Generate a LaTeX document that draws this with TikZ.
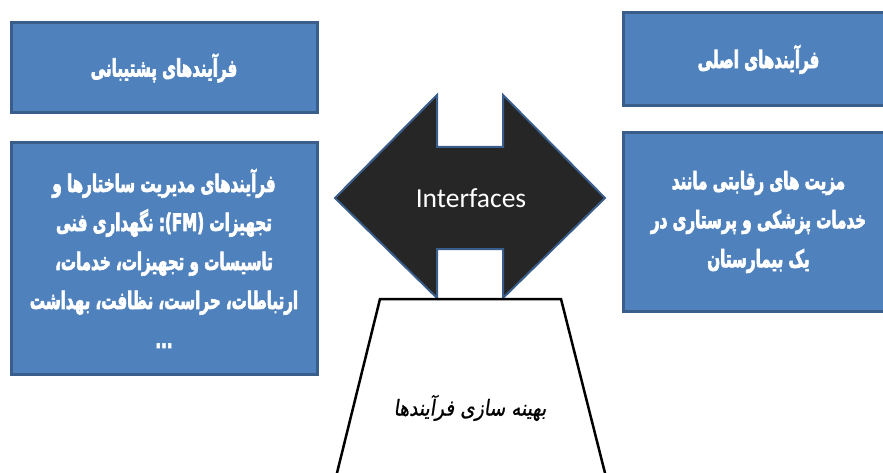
\documentclass[tikz,border=0pt]{standalone}
\usepackage{fontspec}
\usetikzlibrary{positioning}
\newfontfamily\arabicfont[Script=Arabic,FakeStretch=0.63,FakeBold=2.6]{DejaVu Sans Bold}
\newfontfamily\handfont[Script=Arabic,FakeSlant=0.15,FakeStretch=0.85,FakeBold=0.8]{DejaVu Sans}
\newfontfamily\calibrifont{Carlito}
\TeXXeTstate=1
\definecolor{boxblue}{RGB}{79,129,189}
\definecolor{edgeblue}{RGB}{58,94,140}
\definecolor{arrowfill}{RGB}{38,38,38}

\begin{document}
\begin{tikzpicture}[x=1pt, y=-1pt,
  procbox/.style={draw=edgeblue, line width=3pt, fill=boxblue, text=white, align=center,
    inner sep=0pt, font=\arabicfont\fontsize{24}{39}\selectfont}]
  \useasboundingbox (0,0) rectangle (883,473);
  \clip (0,0) rectangle (883,473);
  % support side
  \node[procbox, minimum width=306pt, minimum height=90pt] (support) at (164,68) {\beginR فرآیندهای پشتیبانی\endR};
  \node[procbox, minimum width=306pt, minimum height=231pt] (supportlist) at (164,258.5) {%
    \beginR فرآیندهای مدیریت ساختارها و\endR\\
    \beginR تجهیزات (\beginL FM\endL): نگهداری فنی\endR\\
    \beginR تاسیسات و تجهیزات، خدمات،\endR\\
    \beginR ارتباطات، حراست، نظافت، بهداشت\endR\\
    \beginR ...\endR};
  % main side
  \node[procbox, minimum width=271pt, minimum height=93pt] (main) at (758.5,59.5) {\beginR فرآیندهای اصلی\endR};
  \node[procbox, minimum width=271pt, minimum height=178pt] (advantage) at (758.5,222) {%
    \beginR مزیت های رقابتی مانند\endR\\
    \beginR خدمات پزشکی و پرستاری در\endR\\
    \beginR یک بیمارستان\endR};
  % interfaces
  \draw[draw=edgeblue, line width=2pt, fill=arrowfill] (335,198) -- (437,95) -- (437,147) -- (503,147)
    -- (503,95) -- (605,198) -- (503,298) -- (503,249) -- (437,249) -- (437,298) -- cycle;
  \node[text=white, font=\calibrifont\fontsize{27.5}{30}\selectfont] (interfaces) at (471,198) {Interfaces};
  % optimisation
  \draw[line width=2.5pt] (335,481) -- (380,299) -- (561,299) -- (607,481);
  \node[font=\handfont\fontsize{22}{26}\selectfont] (optimise) at (470,408) {\beginR بهینه سازی فرآیندها\endR};
\end{tikzpicture}
\end{document}
